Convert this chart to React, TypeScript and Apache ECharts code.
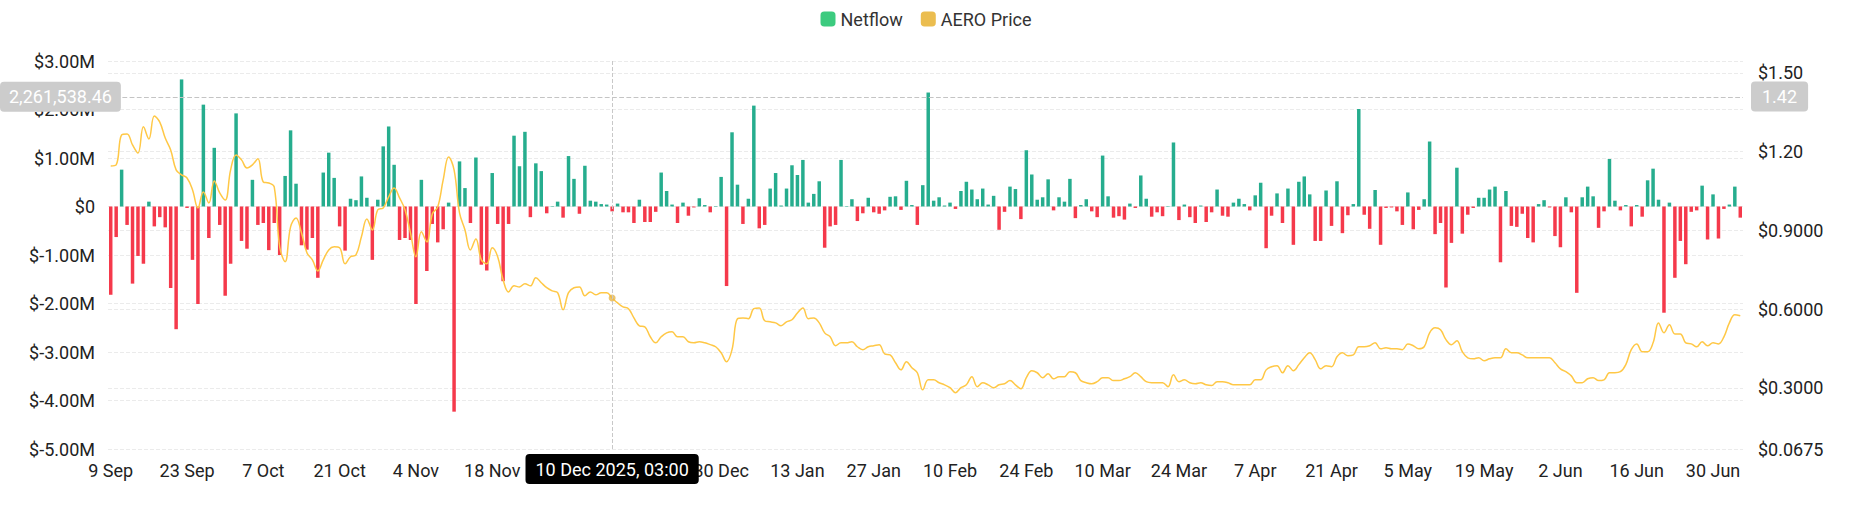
import React, { useEffect, useRef } from "react";
import * as echarts from "echarts";

// ---------- data ----------
const MONTHS = ["Jan", "Feb", "Mar", "Apr", "May", "Jun", "Jul", "Aug", "Sep", "Oct", "Nov", "Dec"];
const DAY_COUNT = 300; // daily categories from 9 Sep 2025
const dates: string[] = [];
for (let i = 0; i < DAY_COUNT; i++) {
  const d = new Date(Date.UTC(2025, 8, 9 + i));
  dates.push(`${d.getUTCDate()} ${MONTHS[d.getUTCMonth()]}`);
}
// tick labels hidden under the crosshair date box in the reference
const hiddenTickLabels: string[] = ["2 Dec", "16 Dec"];

// Netflow in $ millions, one per day
const netflow: number[] = [
  -1.82, -0.63, 0.76, -0.38, -1.59, -1.02, -1.18, 0.10, -0.41, -0.22,
  -0.43, -1.68, -2.53, 2.62, -0.03, -1.10, -2.01, 2.10, -0.65, 1.21,
  -0.38, -1.84, -1.18, 1.92, -0.71, -0.87, 0.55, -0.38, -0.34, -0.90,
  -0.34, -1.00, 0.63, 1.57, 0.47, -0.80, -0.89, -0.65, -1.47, 0.70,
  1.11, 0.59, -0.41, -0.91, 0.16, 0.13, 0.62, 0.18, -1.10, 0.14,
  1.24, 1.65, 0.86, -0.69, -0.65, -0.69, -2.01, 0.55, -1.33, -0.36,
  -0.74, -0.47, 0.08, -4.23, 0.93, 0.38, -0.34, 1.01, -1.20, -1.32,
  0.69, -0.36, -1.54, -0.36, 1.46, 0.83, 1.54, -0.22, 0.89, 0.73,
  -0.14, 0.01, 0.10, -0.23, 1.04, 0.57, -0.15, 0.84, 0.12, 0.10,
  0.05, 0.04, -0.10, 0.06, -0.12, -0.12, -0.34, 0.14, -0.32, -0.32,
  -0.11, 0.70, 0.32, 0.04, -0.34, 0.08, -0.19, -0.02, 0.17, 0.03,
  -0.12, 0.01, 0.61, -1.64, 1.53, 0.45, -0.36, 0.16, 2.08, -0.45,
  -0.38, 0.37, 0.69, 0.02, 0.37, 0.85, 0.65, 0.96, 0.08, 0.26,
  0.52, -0.85, -0.41, -0.38, 0.96, 0.01, 0.15, -0.30, -0.14, 0.18,
  -0.12, -0.15, -0.08, 0.20, 0.21, -0.07, 0.53, 0.03, -0.38, 0.44,
  2.35, 0.12, 0.19, 0.02, 0.08, -0.05, 0.32, 0.51, 0.35, 0.15,
  0.37, 0.04, 0.22, -0.48, -0.11, 0.41, 0.36, -0.26, 1.16, 0.66,
  0.14, 0.19, 0.56, -0.08, 0.19, 0.10, 0.57, -0.24, 0.03, 0.15,
  -0.10, -0.22, 1.05, 0.21, -0.23, -0.20, -0.27, 0.06, -0.03, 0.64,
  0.16, -0.21, -0.12, -0.20, 0.01, 1.32, -0.28, 0.04, -0.22, -0.34,
  0.02, -0.32, -0.12, 0.35, -0.19, -0.21, 0.08, 0.16, 0.05, -0.08,
  0.23, 0.49, -0.86, -0.19, 0.27, -0.34, 0.37, -0.79, 0.51, 0.62,
  0.25, -0.71, -0.71, 0.33, -0.40, 0.52, -0.55, -0.18, 0.05, 2.01,
  -0.17, -0.46, 0.34, -0.79, -0.03, -0.02, -0.10, -0.38, 0.29, -0.47,
  -0.07, 0.15, 1.34, -0.57, -0.34, -1.67, -0.75, 0.80, -0.56, -0.17,
  -0.03, 0.18, 0.18, 0.35, 0.41, -1.15, 0.32, -0.40, -0.42, -0.15,
  -0.65, -0.74, 0.05, 0.13, -0.02, -0.61, -0.84, 0.19, -0.12, -1.78,
  0.19, 0.41, 0.21, -0.44, -0.10, 0.98, 0.12, -0.08, 0.03, -0.41,
  0.03, -0.21, 0.54, 0.78, 0.14, -2.19, 0.08, -1.47, -0.71, -1.19,
  -0.11, -0.08, 0.43, -0.68, 0.25, -0.66, -0.05, 0.04, 0.41, -0.23,
];

// AERO price in $, one per day
const aeroPrice: number[] = [
  1.146, 1.150, 1.264, 1.268, 1.226, 1.195, 1.295, 1.249, 1.336, 1.313,
  1.252, 1.207, 1.131, 1.112, 1.100, 1.055, 0.986, 1.047, 1.005, 1.089,
  1.043, 1.016, 1.131, 1.188, 1.169, 1.138, 1.150, 1.173, 1.085, 1.081,
  1.066, 0.838, 0.781, 0.914, 0.948, 0.891, 0.815, 0.788, 0.746, 0.788,
  0.826, 0.838, 0.834, 0.773, 0.800, 0.807, 0.876, 0.944, 0.902, 0.979,
  0.986, 1.028, 1.062, 1.024, 0.979, 0.891, 0.800, 0.895, 0.857, 0.963,
  0.990, 1.093, 1.180, 1.131, 0.967, 0.902, 0.826, 0.868, 0.788, 0.773,
  0.834, 0.800, 0.712, 0.666, 0.689, 0.685, 0.697, 0.689, 0.720, 0.701,
  0.682, 0.670, 0.663, 0.598, 0.663, 0.682, 0.685, 0.651, 0.666, 0.655,
  0.663, 0.663, 0.643, 0.624, 0.609, 0.602, 0.567, 0.537, 0.533, 0.495,
  0.472, 0.495, 0.510, 0.514, 0.495, 0.495, 0.476, 0.472, 0.476, 0.472,
  0.465, 0.457, 0.434, 0.400, 0.446, 0.564, 0.567, 0.564, 0.602, 0.605,
  0.556, 0.552, 0.548, 0.537, 0.552, 0.560, 0.586, 0.605, 0.564, 0.567,
  0.548, 0.510, 0.495, 0.461, 0.472, 0.472, 0.476, 0.457, 0.446, 0.457,
  0.461, 0.465, 0.430, 0.426, 0.396, 0.369, 0.400, 0.377, 0.358, 0.293,
  0.331, 0.331, 0.320, 0.312, 0.301, 0.282, 0.301, 0.312, 0.343, 0.305,
  0.320, 0.312, 0.301, 0.312, 0.316, 0.328, 0.312, 0.297, 0.339, 0.366,
  0.358, 0.339, 0.354, 0.335, 0.343, 0.343, 0.362, 0.358, 0.328, 0.320,
  0.316, 0.324, 0.339, 0.339, 0.328, 0.328, 0.335, 0.343, 0.358, 0.343,
  0.324, 0.320, 0.320, 0.320, 0.305, 0.350, 0.324, 0.331, 0.320, 0.316,
  0.320, 0.312, 0.309, 0.324, 0.324, 0.320, 0.312, 0.312, 0.312, 0.312,
  0.331, 0.331, 0.369, 0.381, 0.385, 0.358, 0.385, 0.366, 0.389, 0.415,
  0.434, 0.408, 0.373, 0.385, 0.381, 0.419, 0.434, 0.423, 0.426, 0.457,
  0.457, 0.461, 0.472, 0.449, 0.453, 0.449, 0.449, 0.446, 0.468, 0.461,
  0.449, 0.457, 0.510, 0.529, 0.522, 0.484, 0.465, 0.480, 0.438, 0.415,
  0.411, 0.415, 0.404, 0.411, 0.415, 0.415, 0.449, 0.434, 0.434, 0.426,
  0.415, 0.415, 0.415, 0.415, 0.415, 0.396, 0.373, 0.362, 0.346, 0.320,
  0.320, 0.335, 0.339, 0.328, 0.331, 0.358, 0.358, 0.362, 0.389, 0.446,
  0.468, 0.438, 0.438, 0.472, 0.548, 0.510, 0.541, 0.506, 0.506, 0.472,
  0.468, 0.457, 0.476, 0.461, 0.472, 0.468, 0.495, 0.548, 0.579, 0.575,
];

// crosshair (hover) state shown in the reference
const hoverIndex = 92;
const hoverDateLabel = "10 Dec 2025, 03:00";
const hoverNetflow = 2.26153846; // $M
const hoverNetflowLabel = "2,261,538.46";
const hoverPrice = 1.41;
const hoverPriceLabel = "1.42";

const FONT = "Roboto";
const FS = 18;
const GREEN = "#26ad8e";
const RED = "#f5394b";

export default function App() {
  const ref = useRef<HTMLDivElement>(null);

  useEffect(() => {
    document.body.style.margin = "0";
    if (!ref.current) return;
    const chart = echarts.init(ref.current, undefined, { renderer: "svg" });

    const option: any = {
      animation: false,
      textStyle: { fontFamily: FONT },
      legend: {
        top: 5,
        left: "center",
        itemWidth: 15,
        itemHeight: 15,
        itemGap: 18,
        icon: "roundRect",
        textStyle: { fontSize: FS, color: "#333", fontFamily: FONT },
        data: [
          { name: "Netflow", itemStyle: { color: "#3ccb7f" } },
          { name: "AERO Price", itemStyle: { color: "#ebbd4f" } },
        ],
      },
      grid: { left: 108, right: 109, top: 61, bottom: 76 },
      xAxis: {
        type: "category",
        data: dates,
        boundaryGap: true,
        axisLine: { show: false },
        axisTick: { show: false },
        splitLine: { show: false },
        axisLabel: {
          interval: 13,
          color: "#222",
          fontSize: FS,
          margin: 12,
          fontFamily: FONT,
          formatter: (v: string) => (hiddenTickLabels.includes(v) ? "" : v),
        },
        axisPointer: {
          show: true,
          status: "show",
          value: hoverIndex,
          type: "line",
          snap: false,
          lineStyle: { color: "#c8c8c8", type: "dashed", width: 1 },
          label: {
            show: true,
            formatter: () => hoverDateLabel,
            backgroundColor: "#000",
            color: "#fff",
            fontSize: FS,
            fontFamily: FONT,
            padding: [6, 10, 6, 10],
            borderRadius: 4,
            margin: 5,
          },
        },
      },
      yAxis: [
        {
          type: "value",
          position: "left",
          min: -5,
          max: 3,
          interval: 1,
          axisLine: { show: false },
          axisTick: { show: false },
          axisLabel: {
            color: "#222",
            fontSize: FS,
            margin: 13,
            fontFamily: FONT,
            formatter: (v: number) => (v === 0 ? "$0" : "$" + v.toFixed(2) + "M"),
          },
          splitLine: { lineStyle: { color: "#ebebeb", type: "dashed", width: 1 } },
          axisPointer: {
            show: true,
            status: "show",
            value: hoverNetflow,
            type: "line",
            lineStyle: { color: "#c4c4c4", type: "dashed", width: 1.2 },
            label: {
              show: true,
              formatter: () => hoverNetflowLabel,
              backgroundColor: "#cccccc",
              color: "#fff",
              fontSize: FS,
              fontFamily: FONT,
              padding: [6, 9, 6, 9],
              borderRadius: 4,
              margin: -12,
            },
          },
        },
        {
          type: "value",
          position: "right",
          min: 0.0675,
          max: 1.5457,
          splitNumber: 5,
          axisLine: { show: false },
          axisTick: { show: false },
          axisLabel: {
            color: "#222",
            fontSize: FS,
            margin: 15,
            fontFamily: FONT,
            showMaxLabel: false,
            formatter: (v: number) => (v >= 1 ? "$" + v.toFixed(2) : "$" + v.toFixed(4)),
          },
          splitLine: { lineStyle: { color: "#ebebeb", type: "dashed", width: 1 } },
          axisPointer: {
            show: true,
            status: "show",
            value: hoverPrice,
            type: "line",
            lineStyle: { color: "rgba(0,0,0,0)" },
            label: {
              show: true,
              formatter: () => hoverPriceLabel,
              backgroundColor: "#cccccc",
              color: "#fff",
              fontSize: FS,
              fontFamily: FONT,
              padding: [6, 11, 6, 11],
              borderRadius: 4,
              margin: 8,
            },
          },
        },
      ],
      series: [
        {
          name: "Netflow",
          type: "bar",
          yAxisIndex: 0,
          data: netflow,
          barCategoryGap: "36%",
          itemStyle: {
            color: (p: any) => (p.value >= 0 ? GREEN : RED),
          },
        },
        {
          name: "AERO Price",
          type: "line",
          yAxisIndex: 1,
          data: aeroPrice,
          smooth: 0.4,
          showSymbol: false,
          symbol: "none",
          z: 3,
          itemStyle: { color: "#ebbd4f" },
          lineStyle: { color: "#ffc846", width: 1.5 },
        },
        {
          name: "hover",
          type: "scatter",
          yAxisIndex: 1,
          data: [[hoverIndex, aeroPrice[hoverIndex]]],
          symbolSize: 7,
          z: 4,
          silent: true,
          itemStyle: { color: "#e8b64a" },
        },
      ],
    };

    chart.setOption(option);
    return () => chart.dispose();
  }, []);

  return <div ref={ref} style={{ width: 1852, height: 525 }} />;
}
